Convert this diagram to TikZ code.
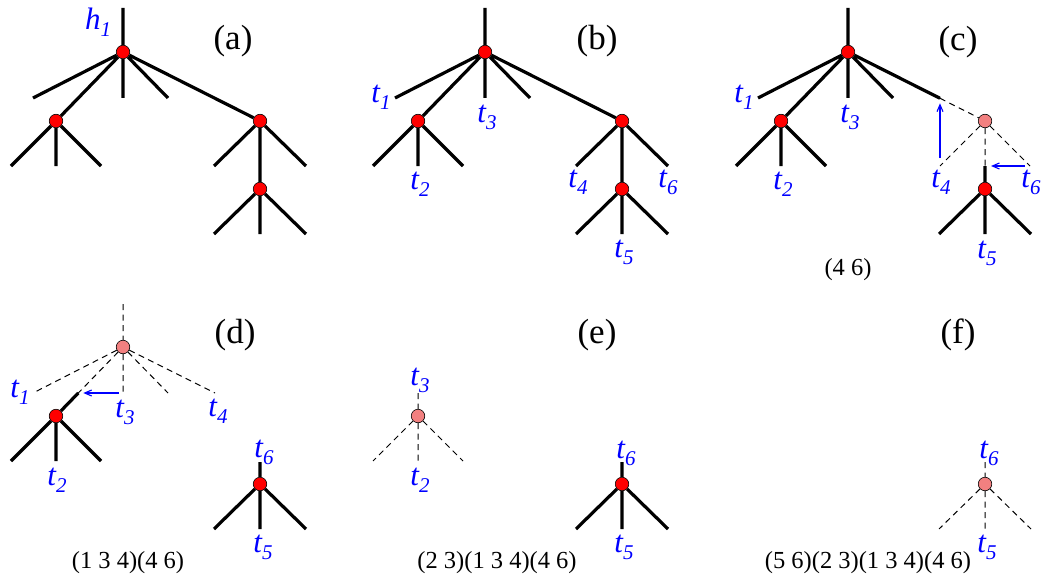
\documentclass[tikz,border=0pt]{standalone}
\usepackage{fontspec}
\setmainfont{Liberation Serif}
\usetikzlibrary{arrows.meta}
\definecolor{tblue}{RGB}{0,0,255}
\definecolor{pinkfill}{RGB}{242,128,128}
\pgfdeclarelayer{bg}\pgfsetlayers{bg,main}
\newcommand\tlab[1]{\itshape t\raisebox{-0.22em}{\fontsize{21}{21}\selectfont #1}}
\newcommand\hlab[1]{\itshape h\raisebox{-0.22em}{\fontsize{21}{21}\selectfont #1}}
\begin{document}
\begin{tikzpicture}[x=1pt,y=-1pt,
 edgesolid/.style={line width=3.2pt},
 edgedash/.style={line width=1pt, dash pattern=on 6pt off 4.5pt},
 rnode/.style={circle, draw=black, line width=0.6pt, fill=red, inner sep=0pt, minimum size=13.5pt},
 pnode/.style={rnode, fill=pinkfill},
 tl/.style={text=tblue, inner sep=0pt, font=\fontsize{31}{31}\selectfont},
 plab/.style={inner sep=0pt, font=\fontsize{35}{35}\selectfont},
 captext/.style={inner sep=0pt, font=\fontsize{24.5}{24.5}\selectfont},
 barr/.style={draw=tblue, line width=1.1pt, -{Straight Barb[length=7pt,width=6pt]}}
]
\useasboundingbox (0,0) rectangle (1041,575);

% ---------------- (a)
\begin{scope}
\node[rnode] (aR) at (123,52) {};
\node[rnode] (aA) at (56,121) {};
\node[rnode] (aB) at (260,121) {};
\node[rnode] (aC) at (260,189) {};
\coordinate (aS) at (123,8);
\coordinate (aL1) at (33,98);
\coordinate (aL3) at (123,98);
\coordinate (aL4) at (168,98);
\coordinate (aA1) at (11,166);
\coordinate (aA2) at (56,166);
\coordinate (aA3) at (101,166);
\coordinate (aB1) at (214,166);
\coordinate (aB3) at (306,166);
\coordinate (aC1) at (214,234);
\coordinate (aC2) at (260,234);
\coordinate (aC3) at (306,234);
\begin{pgfonlayer}{bg}
\draw[edgesolid] (aS)--(aR) (aR)--(aL1) (aR)--(aA) (aR)--(aL3) (aR)--(aL4) (aR)--(aB)
  (aA)--(aA1) (aA)--(aA2) (aA)--(aA3) (aB)--(aB1) (aB)--(aC) (aB)--(aB3)
  (aC)--(aC1) (aC)--(aC2) (aC)--(aC3);
\end{pgfonlayer}
\node[tl] (ah1) at (98,22) {\hlab{1}};
\node[plab] (alab) at (233,41) {(a)};
\end{scope}

% ---------------- (b)
\begin{scope}[shift={(362,0)}]
\node[rnode] (bR) at (123,52) {};
\node[rnode] (bA) at (56,121) {};
\node[rnode] (bB) at (260,121) {};
\node[rnode] (bC) at (260,189) {};
\coordinate (bS) at (123,8);
\coordinate (bL1) at (33,98);
\coordinate (bL3) at (123,98);
\coordinate (bL4) at (168,98);
\coordinate (bA1) at (11,166);
\coordinate (bA2) at (56,166);
\coordinate (bA3) at (101,166);
\coordinate (bB1) at (214,166);
\coordinate (bB3) at (306,166);
\coordinate (bC1) at (214,234);
\coordinate (bC2) at (260,234);
\coordinate (bC3) at (306,234);
\begin{pgfonlayer}{bg}
\draw[edgesolid] (bS)--(bR) (bR)--(bL1) (bR)--(bA) (bR)--(bL3) (bR)--(bL4) (bR)--(bB)
  (bA)--(bA1) (bA)--(bA2) (bA)--(bA3) (bB)--(bB1) (bB)--(bC) (bB)--(bB3)
  (bC)--(bC1) (bC)--(bC2) (bC)--(bC3);
\end{pgfonlayer}
\node[tl] (bt1) at (19,97) {\tlab{1}};
\node[tl] (bt3) at (125,117) {\tlab{3}};
\node[tl] (bt2) at (58,184) {\tlab{2}};
\node[tl] (bt4) at (216,182) {\tlab{4}};
\node[tl] (bt6) at (306,182) {\tlab{6}};
\node[tl] (bt5) at (262,252) {\tlab{5}};
\node[plab] (blab) at (235,41) {(b)};
\end{scope}

% ---------------- (c)
\begin{scope}[shift={(725,0)}]
\node[rnode] (cR) at (123,52) {};
\node[rnode] (cA) at (56,121) {};
\node[pnode] (cB) at (260,121) {};
\node[rnode] (cC) at (260,189) {};
\coordinate (cS) at (123,8);
\coordinate (cL1) at (33,98);
\coordinate (cL3) at (123,98);
\coordinate (cL4) at (168,98);
\coordinate (cK) at (215,98.3);
\coordinate (cA1) at (11,166);
\coordinate (cA2) at (56,166);
\coordinate (cA3) at (101,166);
\coordinate (cB1) at (215,166);
\coordinate (cB2) at (260,166);
\coordinate (cB3) at (305,166);
\coordinate (cC1) at (214,234);
\coordinate (cC2) at (260,234);
\coordinate (cC3) at (306,234);
\coordinate (cP) at (215,158);
\begin{pgfonlayer}{bg}
\draw[edgesolid] (cS)--(cR) (cR)--(cL1) (cR)--(cA) (cR)--(cL3) (cR)--(cL4) (cR)--(cK)
  (cA)--(cA1) (cA)--(cA2) (cA)--(cA3) (cB2)--(cC)
  (cC)--(cC1) (cC)--(cC2) (cC)--(cC3);
\draw[edgedash] (cK)--(cB) (cB)--(cB1) (cB)--(cB2) (cB)--(cB3);
\end{pgfonlayer}
\draw[barr, shorten >=5pt] (cP) -- (cK);
\draw[barr, shorten <=5pt, shorten >=6pt] (cB3) -- (cB2);
\node[tl] (ct1) at (19,97) {\tlab{1}};
\node[tl] (ct3) at (125,117) {\tlab{3}};
\node[tl] (ct2) at (58,184) {\tlab{2}};
\node[tl] (ct4) at (216,182) {\tlab{4}};
\node[tl] (ct6) at (306,182) {\tlab{6}};
\node[tl] (ct5) at (262,253) {\tlab{5}};
\node[plab] (clab) at (233,42) {(c)};
\node[captext] (ccap) at (123,270) {(4 6)};
\end{scope}

% ---------------- (d)
\begin{scope}[shift={(0,295)}]
\node[pnode] (dR) at (123,52) {};
\node[rnode] (dA) at (56,121) {};
\node[rnode] (dC) at (260,189) {};
\coordinate (dS) at (123,9);
\coordinate (dL1) at (33,98);
\coordinate (dL3) at (123,98);
\coordinate (dL4) at (168,98);
\coordinate (dK) at (215,98);
\coordinate (dM) at (78.3,98);
\coordinate (dA1) at (11,166);
\coordinate (dA2) at (56,166);
\coordinate (dA3) at (101,166);
\coordinate (dCs) at (260,167);
\coordinate (dC1) at (214,234);
\coordinate (dC2) at (260,234);
\coordinate (dC3) at (306,234);
\coordinate (dP) at (119,98);
\begin{pgfonlayer}{bg}
\draw[edgedash] (dS)--(dR) (dR)--(dL1) (dR)--(dM) (dR)--(dL3) (dR)--(dL4) (dR)--(dK);
\draw[edgesolid] (dM)--(dA) (dA)--(dA1) (dA)--(dA2) (dA)--(dA3)
  (dCs)--(dC) (dC)--(dC1) (dC)--(dC2) (dC)--(dC3);
\end{pgfonlayer}
\draw[barr, shorten >=5pt] (dP) -- (dM);
\node[tl] (dt1) at (20,97) {\tlab{1}};
\node[tl] (dt3) at (125,117) {\tlab{3}};
\node[tl] (dt4) at (218,116) {\tlab{4}};
\node[tl] (dt2) at (57,185) {\tlab{2}};
\node[tl] (dt6) at (264,157) {\tlab{6}};
\node[tl] (dt5) at (263,252) {\tlab{5}};
\node[plab] (dlab) at (235,40) {(d)};
\node[captext] (dcap) at (128,268) {(1 3 4)(4 6)};
\end{scope}

% ---------------- (e)
\begin{scope}[shift={(362,295)}]
\node[pnode] (eA) at (56,121) {};
\node[rnode] (eC) at (260,189) {};
\coordinate (eAs) at (56,98);
\coordinate (eA1) at (11,166);
\coordinate (eA2) at (56,166);
\coordinate (eA3) at (101,166);
\coordinate (eCs) at (260,167);
\coordinate (eC1) at (214,234);
\coordinate (eC2) at (260,234);
\coordinate (eC3) at (306,234);
\begin{pgfonlayer}{bg}
\draw[edgedash] (eAs)--(eA) (eA)--(eA1) (eA)--(eA2) (eA)--(eA3);
\draw[edgesolid] (eCs)--(eC) (eC)--(eC1) (eC)--(eC2) (eC)--(eC3);
\end{pgfonlayer}
\node[tl] (et3) at (58,85) {\tlab{3}};
\node[tl] (et2) at (58,185) {\tlab{2}};
\node[tl] (et6) at (264,158) {\tlab{6}};
\node[tl] (et5) at (262,252) {\tlab{5}};
\node[plab] (elab) at (235,40) {(e)};
\node[captext] (ecap) at (135,268) {(2 3)(1 3 4)(4 6)};
\end{scope}

% ---------------- (f)
\begin{scope}[shift={(725,295)}]
\node[pnode] (fC) at (260,189) {};
\coordinate (fCs) at (260,167);
\coordinate (fC1) at (214,234);
\coordinate (fC2) at (260,234);
\coordinate (fC3) at (306,234);
\begin{pgfonlayer}{bg}
\draw[edgedash] (fCs)--(fC) (fC)--(fC1) (fC)--(fC2) (fC)--(fC3);
\end{pgfonlayer}
\node[tl] (ft6) at (264,158) {\tlab{6}};
\node[tl] (ft5) at (262,252) {\tlab{5}};
\node[plab] (flab) at (233,40) {(f)};
\node[captext] (fcap) at (143,268) {(5 6)(2 3)(1 3 4)(4 6)};
\end{scope}
\end{tikzpicture}
\end{document}
